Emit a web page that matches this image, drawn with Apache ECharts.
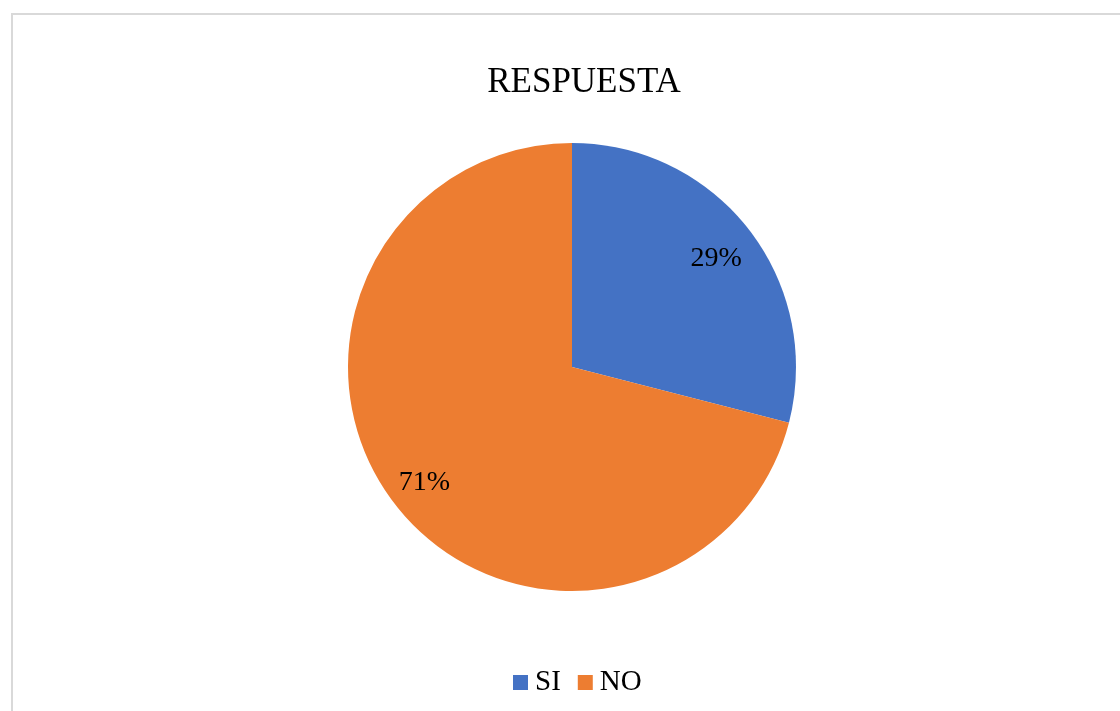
<!DOCTYPE html>
<html>
<head>
<meta charset="utf-8">
<script src="https://cdn.jsdelivr.net/npm/echarts@6/dist/echarts.min.js"></script>
<style>
  html, body { margin: 0; padding: 0; background: #ffffff; }
  #frame {
    position: absolute; left: 11px; top: 13px;
    width: 1200px; height: 800px;
    border: 2px solid #d9d9d9; box-sizing: border-box;
  }
  #chart { position: absolute; left: 0; top: 0; width: 1120px; height: 711px; }
</style>
</head>
<body>
<div id="frame"></div>
<div id="chart"></div>
<script>
// Survey answers
const categories = ['SI', 'NO'];
const values = [29, 71];
const colors = ['#4472C4', '#ED7D31'];
const titleText = 'RESPUESTA';

const pieData = categories.map((name, i) => ({
  name: name,
  value: values[i],
  itemStyle: { color: colors[i] }
}));

const serif = '"Liberation Serif", "DejaVu Serif", serif';
const labelStyle = {
  position: 'inside',
  formatter: '{d}%',
  fontFamily: serif,
  fontSize: 28,
  color: '#000000'
};

// transparent ring whose mid-radius carries the percentage of one slice
function labelRing(radius, shownIndex, nudge) {
  return {
    type: 'pie',
    center: [572, 367],
    radius: radius,
    startAngle: 90,
    clockwise: true,
    silent: true,
    legendHoverLink: false,
    label: Object.assign({ show: true }, labelStyle),
    labelLine: { show: false },
    labelLayout: nudge,
    data: categories.map((name, i) => ({
      name: name,
      value: values[i],
      itemStyle: { color: 'rgba(0,0,0,0)' },
      label: { show: i === shownIndex }
    }))
  };
}

const chart = echarts.init(document.getElementById('chart'), null, { renderer: 'canvas' });
chart.setOption({
  backgroundColor: 'transparent',
  animation: false,
  title: {
    text: titleText,
    left: 579,
    textAlign: 'center',
    top: 60,
    textStyle: { fontFamily: serif, fontSize: 35, fontWeight: 'normal', color: '#000000' }
  },
  legend: {
    data: categories,
    bottom: 9,
    left: 508,
    itemWidth: 15,
    itemHeight: 15,
    itemGap: 17,
    icon: 'rect',
    textStyle: { fontFamily: serif, fontSize: 29, color: '#000000', padding: [0, 0, 0, 2] }
  },
  series: [
    {
      type: 'pie',
      center: [572, 367],
      radius: [0, 224],
      startAngle: 90,
      clockwise: true,
      silent: true,
      label: { show: false },
      labelLine: { show: false },
      data: pieData
    },
    labelRing([164, 182], 0, { dx: 5 }),
    labelRing([177, 193], 1, { dx: 1 })
  ]
});
</script>
</body>
</html>
